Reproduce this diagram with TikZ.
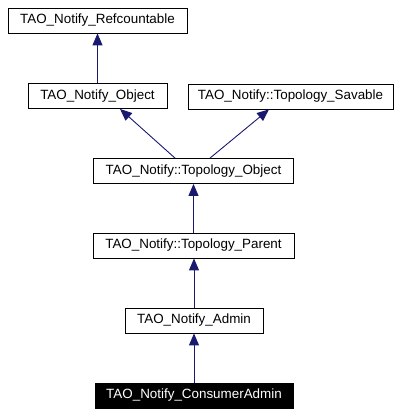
\documentclass[tikz,border=0pt]{standalone}
\usepackage{fontspec}
\setmainfont{Liberation Sans}
\usetikzlibrary{arrows.meta}
\definecolor{edgeblue}{RGB}{25,25,112}
\begin{document}
\begin{tikzpicture}[x=1pt,y=-1pt,
  cls/.style={draw=black,line width=0.8pt,fill=white,minimum height=25pt,inner sep=0pt,font=\fontsize{13.4}{15}\selectfont},
  cur/.style={cls,fill=black,text=white},
  inh/.style={draw=edgeblue,line width=0.9pt,-{Triangle[length=12pt,width=10pt]}}]
\useasboundingbox (0,0) rectangle (403,415);
\node[cls,minimum width=179pt] (ref) at (97.5,20.5) {TAO\_Notify\_Refcountable};
\node[cls,minimum width=139pt] (obj) at (97.5,96) {TAO\_Notify\_Object};
\node[cls,minimum width=205pt] (sav) at (290.5,96.5) {TAO\_Notify::Topology\_Savable};
\node[cls,minimum width=200pt] (tobj) at (193.5,171) {TAO\_Notify::Topology\_Object};
\node[cls,minimum width=201pt] (tpar) at (193.5,245.5) {TAO\_Notify::Topology\_Parent};
\node[cls,minimum width=138pt] (adm) at (194,320.5) {TAO\_Notify\_Admin};
\node[cur,minimum width=198pt] (cadm) at (194,395.5) {TAO\_Notify\_ConsumerAdmin};
\draw[inh] (obj.north) -- (ref.south);
\draw[inh] ([xshift=-18.5pt]tobj.north) -- ([xshift=22.5pt]obj.south);
\draw[inh] ([xshift=16.5pt]tobj.north) -- ([xshift=-21.5pt]sav.south);
\draw[inh] (tpar.north) -- (tobj.south);
\draw[inh] (adm.north) -- (adm.north |- tpar.south);
\draw[inh] (cadm.north) -- (adm.south);
\end{tikzpicture}
\end{document}
